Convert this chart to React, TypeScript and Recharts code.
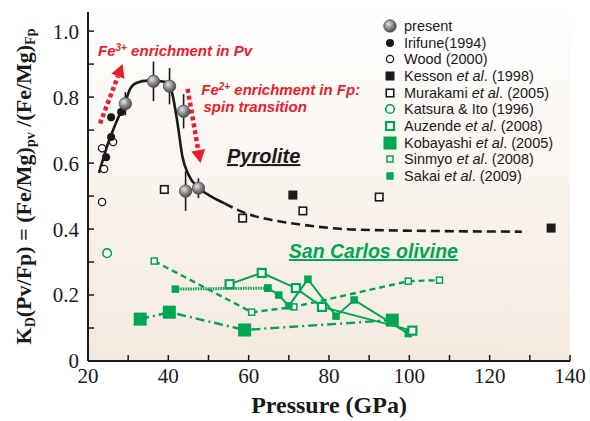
import React from 'react';
import {
  ComposedChart, Line, Scatter, XAxis, YAxis, CartesianGrid, ErrorBar,
  ReferenceDot, ReferenceLine,
} from 'recharts';

const GREEN = '#00a651';
const RED = '#ec1c2a';
const INK = '#1a1a1a';
const SERIF = '"Liberation Serif", "Times New Roman", serif';
const SANS = '"Liberation Sans", Arial, sans-serif';

const xTicks = [20, 30, 40, 50, 60, 70, 80, 90, 100, 110, 120, 130, 140];
const xTickLabels = ['20', '', '40', '', '60', '', '80', '', '100', '', '120', '', '140'];
const yTicks = [0, 0.1, 0.2, 0.3, 0.4, 0.5, 0.6, 0.7, 0.8, 0.9, 1.0];
const yTickLabels = ['0', '', '0.2', '', '0.4', '', '0.6', '', '0.8', '', '1.0'];

// pyrolite (this study), with error bars
const present = [
  { x: 29.3, y: 0.78, err: 0.035 },
  { x: 36.3, y: 0.848, err: 0.06 },
  { x: 40.3, y: 0.833, err: 0.055 },
  { x: 43.8, y: 0.757, err: 0.052 },
  { x: 44.3, y: 0.515, err: 0.06 },
  { x: 47.5, y: 0.524, err: 0.03 },
];
const irifune = [
  { x: 24.5, y: 0.618 },
  { x: 25.75, y: 0.679 },
  { x: 25.75, y: 0.739 },
  { x: 28.25, y: 0.755 },
];
const wood = [
  { x: 23.5, y: 0.482 },
  { x: 24.0, y: 0.582 },
  { x: 23.5, y: 0.645 },
  { x: 26.25, y: 0.664 },
];
const kesson = [
  { x: 71.0, y: 0.503 },
  { x: 135.3, y: 0.403 },
];
const murakami = [
  { x: 39.0, y: 0.52 },
  { x: 58.5, y: 0.433 },
  { x: 73.5, y: 0.455 },
  { x: 92.5, y: 0.497 },
];
// San Carlos olivine
const katsura = [{ x: 24.75, y: 0.327 }];
const auzende = [
  { x: 55.25, y: 0.233 },
  { x: 63.25, y: 0.267 },
  { x: 71.75, y: 0.221 },
  { x: 78.25, y: 0.164 },
  { x: 100.75, y: 0.092 },
];
const kobayashi = [
  { x: 33.0, y: 0.127 },
  { x: 40.25, y: 0.148 },
  { x: 59.0, y: 0.094 },
  { x: 95.75, y: 0.124 },
];
const sinmyo = [
  { x: 36.5, y: 0.303 },
  { x: 60.75, y: 0.148 },
  { x: 71.25, y: 0.164 },
  { x: 99.75, y: 0.242 },
  { x: 107.5, y: 0.245 },
];
const sakai = [
  { x: 41.75, y: 0.218 },
  { x: 64.75, y: 0.221 },
  { x: 67.5, y: 0.2 },
  { x: 70.0, y: 0.167 },
  { x: 74.75, y: 0.248 },
  { x: 81.75, y: 0.136 },
  { x: 86.25, y: 0.185 },
  { x: 99.75, y: 0.083 },
];

// fitted pyrolite trend
const pyroliteSolid = [
  { x: 22.75, y: 0.57 },
  { x: 25.0, y: 0.66 },
  { x: 27.25, y: 0.73 },
  { x: 29.25, y: 0.785 },
  { x: 30.5, y: 0.825 },
  { x: 32.0, y: 0.843 },
  { x: 35.0, y: 0.85 },
  { x: 39.5, y: 0.846 },
  { x: 41.0, y: 0.81 },
  { x: 42.3, y: 0.72 },
  { x: 43.5, y: 0.62 },
  { x: 45.0, y: 0.565 },
  { x: 47.5, y: 0.525 },
  { x: 50.5, y: 0.5 },
  { x: 54.0, y: 0.478 },
];
const pyroliteDashed = [
  { x: 54.0, y: 0.478 },
  { x: 58.75, y: 0.45 },
  { x: 65.5, y: 0.428 },
  { x: 70.5, y: 0.418 },
  { x: 87.25, y: 0.398 },
  { x: 128.0, y: 0.392 },
];

type Kind =
  | 'present' | 'irifune' | 'wood' | 'kesson' | 'murakami'
  | 'katsura' | 'auzende' | 'kobayashi' | 'sinmyo' | 'sakai';

const Marker = ({ kind, cx, cy, grad = 'ball' }: { kind: Kind; cx: number; cy: number; grad?: string }) => {
  if (cx == null || cy == null) return null;
  const sq = (s: number, fill: string, stroke: string, sw: number) => (
    <rect x={cx - s / 2} y={cy - s / 2} width={s} height={s} fill={fill} stroke={stroke} strokeWidth={sw} />
  );
  switch (kind) {
    case 'present':
      return <circle cx={cx} cy={cy} r={6.2} fill={`url(#${grad})`} stroke="#4a4a4a" strokeWidth={0.8} />;
    case 'irifune':
      return <circle cx={cx} cy={cy} r={4} fill={INK} />;
    case 'wood':
      return <circle cx={cx} cy={cy} r={3.6} fill="#fff" stroke={INK} strokeWidth={1.3} />;
    case 'kesson':
      return sq(9, INK, INK, 0);
    case 'murakami':
      return sq(7.5, '#fff', INK, 1.6);
    case 'katsura':
      return <circle cx={cx} cy={cy} r={4.3} fill="#fff" stroke={GREEN} strokeWidth={1.6} />;
    case 'auzende':
      return sq(8, '#fff', GREEN, 2.2);
    case 'kobayashi':
      return sq(13, GREEN, GREEN, 0);
    case 'sinmyo':
      return sq(6, '#fff', GREEN, 1.5);
    case 'sakai':
      return sq(7.5, GREEN, GREEN, 0);
  }
  return null;
};

const shapeOf = (kind: Kind) => (p: any) => <Marker kind={kind} cx={p.cx} cy={p.cy} />;
const dotOf = (kind: Kind) => (p: any) => (
  <Marker key={`${kind}-${p.index}`} kind={kind} cx={p.cx} cy={p.cy} />
);

const legendItems: { kind: Kind; name: string; italic?: string; tail?: string }[] = [
  { kind: 'present', name: 'present' },
  { kind: 'irifune', name: 'Irifune(1994)' },
  { kind: 'wood', name: 'Wood (2000)' },
  { kind: 'kesson', name: 'Kesson ', italic: 'et al', tail: '. (1998)' },
  { kind: 'murakami', name: 'Murakami ', italic: 'et al', tail: '. (2005)' },
  { kind: 'katsura', name: 'Katsura & Ito (1996)' },
  { kind: 'auzende', name: 'Auzende ', italic: 'et al', tail: '. (2008)' },
  { kind: 'kobayashi', name: 'Kobayashi ', italic: 'et al', tail: '. (2005)' },
  { kind: 'sinmyo', name: 'Sinmyo ', italic: 'et al', tail: '. (2008)' },
  { kind: 'sakai', name: 'Sakai ', italic: 'et al', tail: '. (2009)' },
];

// annotation anchors (data coordinates of the text start / arrows)
const fe3Label = { x: 22.5, y: 0.924 };
const fe2Label = { x: 48.2, y: 0.806 };
const spinLabel = { x: 48.75, y: 0.755 };
const pyroliteLabel = { x: 54.6, y: 0.6 };
const olivineLabel = { x: 70.0, y: 0.312 };
const arrowUp = [{ x: 23.0, y: 0.72 }, { x: 28.6, y: 0.9 }];
const arrowDown = [{ x: 44.8, y: 0.825 }, { x: 48.0, y: 0.6 }];

const DottedArrow = (p: any) => {
  const { x1, y1, x2, y2 } = p;
  if (x1 == null) return null;
  const dx = x2 - x1;
  const dy = y2 - y1;
  const len = Math.hypot(dx, dy);
  const ux = dx / len;
  const uy = dy / len;
  const head = 13;
  const hw = 7;
  const bx = x2 - ux * head;
  const by = y2 - uy * head;
  return (
    <g>
      <line x1={x1} y1={y1} x2={bx} y2={by} stroke={RED} strokeWidth={4.5} strokeDasharray="4 3" />
      <polygon
        points={`${x2},${y2} ${bx - uy * hw},${by + ux * hw} ${bx + uy * hw},${by - ux * hw}`}
        fill={RED}
      />
    </g>
  );
};

const textAt = (render: (x: number, y: number) => React.ReactElement) => (p: any) =>
  p.cx == null ? <g /> : render(p.cx, p.cy);

const redStyle = { fontFamily: SANS, fontWeight: 700, fontStyle: 'italic', fontSize: 15, fill: RED } as const;

const YLabel = (props: any) => {
  const vb = props.viewBox || { x: 0, y: 12, width: 88, height: 349 };
  const cx = vb.x + 23;
  const cy = vb.y + vb.height / 2;
  return (
    <text
      x={cx}
      y={cy}
      transform={`rotate(-90, ${cx}, ${cy})`}
      textAnchor="middle"
      dominantBaseline="central"
      style={{ fontFamily: SERIF, fontWeight: 700, fontSize: 22, fill: INK }}
    >
      K<tspan baselineShift="sub" fontSize={14}>D</tspan>
      <tspan>(Pv/Fp) = (Fe/Mg)</tspan>
      <tspan baselineShift="sub" fontSize={14}>pv</tspan>
      <tspan> /(Fe/Mg)</tspan>
      <tspan baselineShift="sub" fontSize={14}>Fp</tspan>
    </text>
  );
};

const XLabel = (props: any) => {
  const vb = props.viewBox || { x: 88, y: 361, width: 482, height: 60 };
  return (
    <text
      x={vb.x + vb.width / 2}
      y={vb.y + 52}
      textAnchor="middle"
      style={{ fontFamily: SERIF, fontWeight: 700, fontSize: 24, fill: INK }}
    >
      Pressure (GPa)
    </text>
  );
};

const axisLine = { stroke: INK, strokeWidth: 2 };
const tickLine = { stroke: INK, strokeWidth: 1.5 };
const tickFont = { fill: INK, fontSize: 21, fontFamily: SERIF };

export default function App() {
  return (
    <div style={{ position: 'absolute', left: 0, top: 0, width: 590, height: 421, background: '#fff' }}>
      <ComposedChart width={590} height={421} margin={{ top: 12, right: 20, bottom: 0, left: 0 }}>
        <defs>
          <linearGradient id="plotBg" x1="0" y1="0" x2="0" y2="1">
            <stop offset="0%" stopColor="#fefefd" />
            <stop offset="100%" stopColor="#f4e9df" />
          </linearGradient>
          <radialGradient id="ball" cx="38%" cy="35%" r="65%">
            <stop offset="0%" stopColor="#e4e4e4" />
            <stop offset="55%" stopColor="#8a8a8a" />
            <stop offset="100%" stopColor="#505050" />
          </radialGradient>
        </defs>
        <CartesianGrid horizontal={false} vertical={false} fill="url(#plotBg)" />
        <XAxis
          xAxisId={0}
          type="number"
          dataKey="x"
          domain={[20, 140]}
          allowDataOverflow
          ticks={xTicks}
          interval={0}
          height={60}
          axisLine={axisLine}
          tickLine={tickLine}
          tickSize={-6}
          tickMargin={13}
          tick={tickFont}
          tickFormatter={(v: number) => xTickLabels[xTicks.indexOf(v)] ?? ''}
          label={{ content: XLabel }}
        />
        <XAxis
          xAxisId="top"
          orientation="top"
          type="number"
          domain={[20, 140]}
          allowDataOverflow
          ticks={xTicks}
          interval={0}
          height={0}
          axisLine={axisLine}
          tickLine={tickLine}
          tickSize={-6}
          tick={false}
        />
        <YAxis
          yAxisId={0}
          type="number"
          dataKey="y"
          domain={[0, 1.058]}
          allowDataOverflow
          ticks={yTicks}
          interval={0}
          width={88}
          axisLine={axisLine}
          tickLine={tickLine}
          tickSize={-6}
          tickMargin={15}
          tick={tickFont}
          tickFormatter={(v: number) => yTickLabels[yTicks.indexOf(v)] ?? ''}
          label={{ content: YLabel }}
        />
        <YAxis
          yAxisId="right"
          orientation="right"
          type="number"
          domain={[0, 1.058]}
          allowDataOverflow
          ticks={yTicks}
          interval={0}
          width={0}
          axisLine={axisLine}
          tickLine={tickLine}
          tickSize={-6}
          tick={false}
        />

        <Line data={pyroliteSolid} dataKey="y" type="monotone" stroke={INK} strokeWidth={2.6}
          dot={false} activeDot={false} isAnimationActive={false} />
        <Line data={pyroliteDashed} dataKey="y" type="monotone" stroke={INK} strokeWidth={2.6}
          strokeDasharray="9 5" dot={false} activeDot={false} isAnimationActive={false} />

        <Scatter data={wood} shape={shapeOf('wood')} isAnimationActive={false} />
        <Scatter data={irifune} shape={shapeOf('irifune')} isAnimationActive={false} />
        <Scatter data={murakami} shape={shapeOf('murakami')} isAnimationActive={false} />
        <Scatter data={kesson} shape={shapeOf('kesson')} isAnimationActive={false} />
        <Scatter data={katsura} shape={shapeOf('katsura')} isAnimationActive={false} />

        <Line data={kobayashi} dataKey="y" stroke={GREEN} strokeWidth={2.4} strokeDasharray="9 4 2 4"
          dot={dotOf('kobayashi')} activeDot={false} isAnimationActive={false} />
        <Line data={sinmyo} dataKey="y" stroke={GREEN} strokeWidth={2.4} strokeDasharray="6 4"
          dot={dotOf('sinmyo')} activeDot={false} isAnimationActive={false} />
        <Line data={sakai.slice(0, 2)} dataKey="y" stroke={GREEN} strokeWidth={3} strokeDasharray="1.5 1"
          dot={dotOf('sakai')} activeDot={false} isAnimationActive={false} />
        <Line data={sakai.slice(1)} dataKey="y" stroke={GREEN} strokeWidth={2}
          dot={dotOf('sakai')} activeDot={false} isAnimationActive={false} />
        <Line data={auzende} dataKey="y" stroke={GREEN} strokeWidth={2}
          dot={dotOf('auzende')} activeDot={false} isAnimationActive={false} />

        <Scatter data={present} shape={shapeOf('present')} isAnimationActive={false}>
          <ErrorBar dataKey="err" direction="y" width={0} stroke={INK} strokeWidth={1.6} />
        </Scatter>

        <ReferenceLine segment={arrowUp} shape={DottedArrow} ifOverflow="visible" />
        <ReferenceLine segment={arrowDown} shape={DottedArrow} ifOverflow="visible" />

        <ReferenceDot x={fe3Label.x} y={fe3Label.y} r={0} ifOverflow="visible"
          shape={textAt((x, y) => (
            <text x={x} y={y} style={redStyle}>
              Fe<tspan baselineShift="super" fontSize={10}>3+</tspan> enrichment in Pv
            </text>
          ))} />
        <ReferenceDot x={fe2Label.x} y={fe2Label.y} r={0} ifOverflow="visible"
          shape={textAt((x, y) => (
            <text x={x} y={y} style={redStyle}>
              Fe<tspan baselineShift="super" fontSize={10}>2+</tspan> enrichment in Fp:
            </text>
          ))} />
        <ReferenceDot x={spinLabel.x} y={spinLabel.y} r={0} ifOverflow="visible"
          shape={textAt((x, y) => (
            <text x={x} y={y} style={redStyle}>spin transition</text>
          ))} />
        <ReferenceDot x={pyroliteLabel.x} y={pyroliteLabel.y} r={0} ifOverflow="visible"
          shape={textAt((x, y) => (
            <text x={x} y={y} textDecoration="underline"
              style={{ fontFamily: SANS, fontWeight: 700, fontStyle: 'italic', fontSize: 20, fill: INK, textDecoration: 'underline' }}>
              Pyrolite
            </text>
          ))} />
        <ReferenceDot x={olivineLabel.x} y={olivineLabel.y} r={0} ifOverflow="visible"
          shape={textAt((x, y) => (
            <text x={x} y={y} textDecoration="underline"
              style={{ fontFamily: SANS, fontWeight: 700, fontStyle: 'italic', fontSize: 19.5, fill: GREEN, textDecoration: 'underline' }}>
              San Carlos olivine
            </text>
          ))} />
      </ComposedChart>

      <div style={{ position: 'absolute', left: 382, top: 17.5, fontFamily: SANS, fontSize: 14.5, color: INK }}>
        <svg width={0} height={0} style={{ position: 'absolute' }}>
          <defs>
            <radialGradient id="ballLegend" cx="38%" cy="35%" r="65%">
              <stop offset="0%" stopColor="#e4e4e4" />
              <stop offset="55%" stopColor="#8a8a8a" />
              <stop offset="100%" stopColor="#505050" />
            </radialGradient>
          </defs>
        </svg>
        {legendItems.map((it) => (
          <div key={it.kind} style={{ display: 'flex', alignItems: 'center', height: 16.7, whiteSpace: 'nowrap' }}>
            <svg width={18} height={16} style={{ marginRight: 4 }}>
              <Marker kind={it.kind} cx={8} cy={8} grad="ballLegend" />
            </svg>
            <span>
              {it.name}
              {it.italic && <i>{it.italic}</i>}
              {it.tail}
            </span>
          </div>
        ))}
      </div>
    </div>
  );
}
